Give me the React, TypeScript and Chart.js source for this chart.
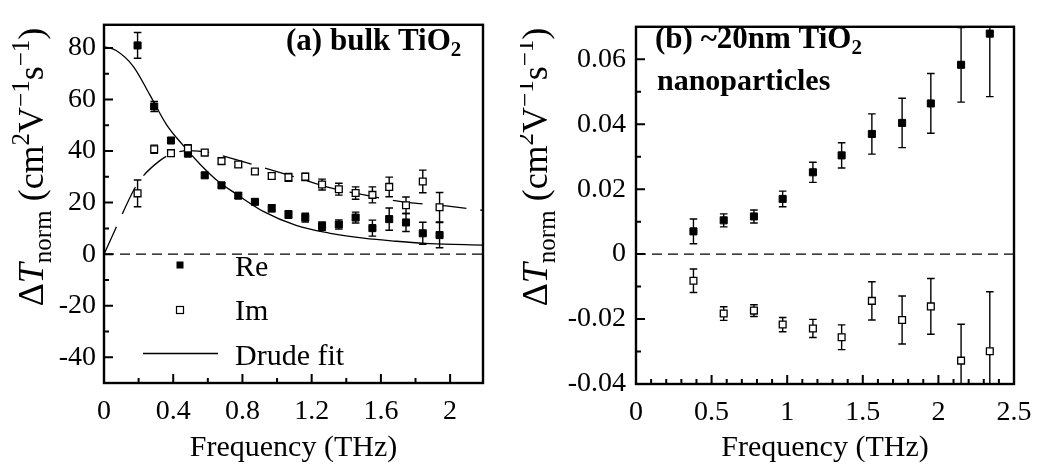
import { useEffect, useRef } from "react";
import { Chart, registerables } from "chart.js";

Chart.register(...registerables);

const SERIF = '"Liberation Serif", "Times New Roman", serif';

// ---------- (a) bulk TiO2 ----------
const bulkFreq = [0.194, 0.29, 0.387, 0.485, 0.582, 0.679, 0.776, 0.872, 0.969, 1.066, 1.163, 1.26, 1.357, 1.454, 1.551, 1.648, 1.745, 1.842, 1.939];
const bulkRe = [81.0, 57.3, 44.1, 39.0, 30.6, 26.7, 22.7, 20.3, 17.8, 15.4, 14.2, 10.9, 11.5, 14.2, 10.1, 13.6, 12.3, 8.1, 7.4];
const bulkReErr = [5.0, 2.0, 1.0, 1.0, 1.0, 1.0, 1.0, 1.0, 1.4, 1.5, 1.7, 1.6, 1.8, 2.1, 3.1, 4.3, 3.5, 4.3, 4.9];
const bulkIm = [23.6, 40.7, 39.2, 41.0, 39.4, 36.1, 34.8, 32.1, 30.3, 29.8, 30.0, 27.0, 25.2, 23.7, 23.0, 26.1, 19.0, 28.2, 18.2];
const bulkImErr = [5.2, 1.6, 1.0, 1.5, 1.0, 1.0, 1.0, 1.0, 1.2, 1.5, 1.4, 2.1, 2.3, 2.4, 3.1, 3.8, 3.2, 4.4, 5.7];

// Drude fit curves (sampled)
const fitReFreq = [0, 0.07, 0.17, 0.265, 0.36, 0.46, 0.555, 0.65, 0.765, 0.92, 1.11, 1.3, 1.5, 1.69, 1.88, 2.19];
const fitRe = [80.5, 79.0, 72.8, 61.8, 50.4, 42.0, 34.9, 28.8, 23.3, 16.6, 11.2, 8.2, 6.2, 5.0, 4.1, 3.5];
const fitImFreq = [0, 0.063, 0.096, 0.169, 0.208, 0.319, 0.39, 0.487, 0.612, 0.727, 0.871, 1.112, 1.304, 1.496, 1.727, 1.977, 2.19];
const fitIm = [0, 9.3, 14.2, 24.5, 28.8, 36.1, 38.9, 40.2, 39.4, 37.4, 34.6, 29.8, 25.8, 23.1, 20.3, 18.7, 17.0];

const bulkXTicks = [0, 0.4, 0.8, 1.2, 1.6, 2];
const bulkXLabels = ["0", "0.4", "0.8", "1.2", "1.6", "2"];
const bulkXMinor = [0.2, 0.6, 1.0, 1.4, 1.8];
const bulkYTicks = [-40, -20, 0, 20, 40, 60, 80];
const bulkYLabels = ["-40", "-20", "0", "20", "40", "60", "80"];
const bulkYMinor = [-30, -10, 10, 30, 50, 70];

// ---------- (b) ~20nm TiO2 nanoparticles ----------
const nanoFreq = [0.38, 0.58, 0.78, 0.97, 1.17, 1.36, 1.56, 1.76, 1.95, 2.15, 2.34];
const nanoRe = [0.007, 0.0104, 0.0116, 0.017, 0.0252, 0.0304, 0.037, 0.0404, 0.0464, 0.0583, 0.0679];
const nanoReErr = [0.0038, 0.002, 0.002, 0.0024, 0.0031, 0.0039, 0.0062, 0.0076, 0.0092, 0.0115, 0.0194];
const nanoIm = [-0.0082, -0.0183, -0.0174, -0.0217, -0.0229, -0.0256, -0.0144, -0.0203, -0.0161, -0.0328, -0.0299];
const nanoImErr = [0.0036, 0.0021, 0.0018, 0.0022, 0.0028, 0.0038, 0.0059, 0.0074, 0.0086, 0.0112, 0.0183];

const nanoXTicks = [0, 0.5, 1, 1.5, 2, 2.5];
const nanoXLabels = ["0", "0.5", "1", "1.5", "2", "2.5"];
const nanoXMinor = [0.1, 0.2, 0.3, 0.4, 0.6, 0.7, 0.8, 0.9, 1.1, 1.2, 1.3, 1.4, 1.6, 1.7, 1.8, 1.9, 2.1, 2.2, 2.3, 2.4];
const nanoYTicks = [-0.04, -0.02, 0, 0.02, 0.04, 0.06];
const nanoYLabels = ["-0.04", "-0.02", "0", "0.02", "0.04", "0.06"];
const nanoYMinor = [-0.03, -0.01, 0.01, 0.03, 0.05];

type Seg = { t: string; font: string; dy?: number };

const reg = (s: number) => `${s}px ${SERIF}`;
const ital = (s: number) => `italic ${s}px ${SERIF}`;
const bold = (s: number) => `bold ${s}px ${SERIF}`;

const yTitleSegs: Seg[] = [
  { t: "\u0394", font: reg(36) },
  { t: "T", font: ital(36) },
  { t: "norm", font: reg(25), dy: 8 },
  { t: " (cm", font: reg(36) },
  { t: "2", font: reg(25), dy: -14 },
  { t: "V", font: reg(36) },
  { t: "\u22121", font: reg(25), dy: -14 },
  { t: "s", font: reg(36) },
  { t: "\u22121", font: reg(25), dy: -14 },
  { t: ")", font: reg(36) },
];

function richWidth(ctx: CanvasRenderingContext2D, segs: Seg[]) {
  let w = 0;
  for (const s of segs) {
    ctx.font = s.font;
    w += ctx.measureText(s.t).width;
  }
  return w;
}

function drawRich(ctx: CanvasRenderingContext2D, segs: Seg[], x: number, y: number) {
  let cx = x;
  for (const s of segs) {
    ctx.font = s.font;
    ctx.fillText(s.t, cx, y + (s.dy || 0));
    cx += ctx.measureText(s.t).width;
  }
}

interface Series {
  freq: number[];
  val: number[];
  err: number[];
}

interface PanelSpec {
  width: number;
  xMin: number;
  xMax: number;
  yMin: number;
  yMax: number;
  xTicks: number[];
  xLabels: string[];
  xMinor: number[];
  yTicks: number[];
  yLabels: string[];
  yMinor: number[];
  yAxisWidth: number;
  xAxisHeight: number;
  padRight: number;
  yLabelPad: number;
  re: Series;
  im: Series;
  withFit: boolean;
  titles: { segs: Seg[]; x: number; y: number }[];
  yTitleX: number;
  yTitleY: number;
  legend: boolean;
}

const zip = (xs: number[], ys: number[]) => xs.map((x, i) => ({ x, y: ys[i] }));

function panelPlugin(spec: PanelSpec) {
  return {
    id: "panelDecor",
    beforeDatasetsDraw(chart: any) {
      const { ctx, chartArea: a, scales } = chart;
      const xs = scales.x;
      const ys = scales.y;
      ctx.save();
      ctx.beginPath();
      ctx.rect(a.left, a.top, a.right - a.left, a.bottom - a.top);
      ctx.clip();
      // zero reference line
      const y0 = ys.getPixelForValue(0);
      ctx.strokeStyle = "#000";
      ctx.lineWidth = 1.4;
      ctx.setLineDash([10, 6]);
      ctx.beginPath();
      ctx.moveTo(a.left, y0);
      ctx.lineTo(a.right, y0);
      ctx.stroke();
      ctx.setLineDash([]);
      // error bars
      ctx.lineWidth = 1.4;
      for (const s of [spec.re, spec.im]) {
        s.freq.forEach((f, i) => {
          const px = xs.getPixelForValue(f);
          const hi = ys.getPixelForValue(s.val[i] + s.err[i]);
          const lo = ys.getPixelForValue(s.val[i] - s.err[i]);
          ctx.beginPath();
          ctx.moveTo(px, hi);
          ctx.lineTo(px, lo);
          ctx.moveTo(px - 3.8, hi);
          ctx.lineTo(px + 3.8, hi);
          ctx.moveTo(px - 3.8, lo);
          ctx.lineTo(px + 3.8, lo);
          ctx.stroke();
        });
      }
      ctx.restore();
    },
    afterDraw(chart: any) {
      const { ctx, chartArea: a, scales } = chart;
      const xs = scales.x;
      const ys = scales.y;
      ctx.save();
      ctx.strokeStyle = "#000";
      ctx.fillStyle = "#000";
      // frame
      ctx.lineWidth = 2.4;
      ctx.strokeRect(a.left, a.top, a.right - a.left, a.bottom - a.top);
      // inward ticks
      ctx.lineWidth = 2;
      ctx.beginPath();
      for (const v of spec.xTicks) {
        const px = xs.getPixelForValue(v);
        ctx.moveTo(px, a.bottom);
        ctx.lineTo(px, a.bottom - 9);
      }
      for (const v of spec.xMinor) {
        const px = xs.getPixelForValue(v);
        ctx.moveTo(px, a.bottom);
        ctx.lineTo(px, a.bottom - 5);
      }
      for (const v of spec.yTicks) {
        const py = ys.getPixelForValue(v);
        ctx.moveTo(a.left, py);
        ctx.lineTo(a.left + 9, py);
      }
      for (const v of spec.yMinor) {
        const py = ys.getPixelForValue(v);
        ctx.moveTo(a.left, py);
        ctx.lineTo(a.left + 5, py);
      }
      ctx.stroke();

      // panel titles
      ctx.textBaseline = "alphabetic";
      ctx.textAlign = "left";
      for (const line of spec.titles) drawRich(ctx, line.segs, line.x, line.y);

      // y axis title (rotated)
      ctx.save();
      ctx.translate(spec.yTitleX, spec.yTitleY);
      ctx.rotate(-Math.PI / 2);
      const w = richWidth(ctx, yTitleSegs);
      drawRich(ctx, yTitleSegs, -w / 2, 0);
      ctx.restore();

      // legend
      if (spec.legend) {
        ctx.fillRect(176.5, 261.5, 7, 7);
        ctx.fillStyle = "#fff";
        ctx.fillRect(176.5, 306.5, 7, 7);
        ctx.fillStyle = "#000";
        ctx.lineWidth = 1.2;
        ctx.strokeRect(176.5, 306.5, 7, 7);
        ctx.lineWidth = 1.3;
        ctx.beginPath();
        ctx.moveTo(143, 353.5);
        ctx.lineTo(218, 353.5);
        ctx.stroke();
        ctx.font = reg(30);
        ctx.fillText("Re", 235, 276);
        ctx.fillText("Im", 235, 320);
        ctx.fillText("Drude fit", 235, 365);
      }
      ctx.restore();
    },
  };
}

function buildChart(canvas: HTMLCanvasElement, spec: PanelSpec) {
  const datasets: any[] = [];
  if (spec.withFit) {
    datasets.push({
      data: zip(fitReFreq, fitRe),
      showLine: true,
      borderColor: "#000",
      borderWidth: 1.3,
      pointRadius: 0,
      cubicInterpolationMode: "monotone",
      order: 3,
    });
    datasets.push({
      data: zip(fitImFreq, fitIm),
      showLine: true,
      borderColor: "#000",
      borderWidth: 1.3,
      borderDash: [30, 14],
      pointRadius: 0,
      cubicInterpolationMode: "monotone",
      order: 2,
    });
  }
  datasets.push({
    data: zip(spec.re.freq, spec.re.val),
    showLine: false,
    pointStyle: "rect",
    pointRadius: 5,
    pointBackgroundColor: "#000",
    pointBorderColor: "#000",
    pointBorderWidth: 1,
    order: 1,
  });
  datasets.push({
    data: zip(spec.im.freq, spec.im.val),
    showLine: false,
    pointStyle: "rect",
    pointRadius: 4.8,
    pointBackgroundColor: "#fff",
    pointBorderColor: "#000",
    pointBorderWidth: 1.3,
    order: 0,
  });

  return new Chart(canvas, {
    type: "scatter",
    data: { datasets },
    plugins: [panelPlugin(spec)],
    options: {
      animation: false,
      responsive: false,
      devicePixelRatio: 1,
      events: [],
      layout: { padding: { top: 4, right: spec.padRight, left: 0, bottom: 0 } },
      plugins: { legend: { display: false }, tooltip: { enabled: false } },
      scales: {
        x: {
          type: "linear",
          min: spec.xMin,
          max: spec.xMax,
          afterBuildTicks: (s: any) => {
            s.ticks = spec.xTicks.map((v) => ({ value: v }));
          },
          afterFit: (s: any) => {
            s.height = spec.xAxisHeight;
          },
          grid: { display: false, drawTicks: false },
          border: { display: false },
          ticks: {
            autoSkip: false,
            maxRotation: 0,
            padding: 12,
            color: "#000",
            font: { family: SERIF, size: 28 },
            callback: (_v: any, i: number) => spec.xLabels[i],
          },
          title: {
            display: true,
            text: "Frequency (THz)",
            color: "#000",
            font: { family: SERIF, size: 30 },
            padding: { top: 0, bottom: 6 },
          },
        },
        y: {
          type: "linear",
          min: spec.yMin,
          max: spec.yMax,
          afterBuildTicks: (s: any) => {
            s.ticks = spec.yTicks.map((v) => ({ value: v }));
          },
          afterFit: (s: any) => {
            s.width = spec.yAxisWidth;
          },
          grid: { display: false, drawTicks: false },
          border: { display: false },
          ticks: {
            autoSkip: false,
            padding: spec.yLabelPad,
            color: "#000",
            font: { family: SERIF, size: 28 },
            callback: (_v: any, i: number) => spec.yLabels[i],
          },
        },
      },
    } as any,
  });
}

const bulkSpec: PanelSpec = {
  width: 520,
  xMin: 0,
  xMax: 2.19,
  yMin: -50,
  yMax: 89,
  xTicks: bulkXTicks,
  xLabels: bulkXLabels,
  xMinor: bulkXMinor,
  yTicks: bulkYTicks,
  yLabels: bulkYLabels,
  yMinor: bulkYMinor,
  yAxisWidth: 104,
  xAxisHeight: 89,
  padRight: 37,
  yLabelPad: 8,
  re: { freq: bulkFreq, val: bulkRe, err: bulkReErr },
  im: { freq: bulkFreq, val: bulkIm, err: bulkImErr },
  withFit: true,
  titles: [
    {
      segs: [
        { t: "(a) bulk TiO", font: bold(31) },
        { t: "2", font: bold(21), dy: 6 },
      ],
      x: 286,
      y: 50,
    },
  ],
  yTitleX: 43,
  yTitleY: 167,
  legend: true,
};

const nanoSpec: PanelSpec = {
  width: 525,
  xMin: 0,
  xMax: 2.5,
  yMin: -0.04,
  yMax: 0.07,
  xTicks: nanoXTicks,
  xLabels: nanoXLabels,
  xMinor: nanoXMinor,
  yTicks: nanoYTicks,
  yLabels: nanoYLabels,
  yMinor: nanoYMinor,
  yAxisWidth: 116,
  xAxisHeight: 88,
  padRight: 31,
  yLabelPad: 10,
  re: { freq: nanoFreq, val: nanoRe, err: nanoReErr },
  im: { freq: nanoFreq, val: nanoIm, err: nanoImErr },
  withFit: false,
  titles: [
    {
      segs: [
        { t: "(b) ~20nm TiO", font: bold(31) },
        { t: "2", font: bold(21), dy: 6 },
      ],
      x: 135,
      y: 48,
    },
    { segs: [{ t: "nanoparticles", font: bold(30) }], x: 137, y: 90 },
  ],
  yTitleX: 27,
  yTitleY: 167,
  legend: false,
};

function Panel({ spec, left }: { spec: PanelSpec; left: number }) {
  const ref = useRef<HTMLCanvasElement | null>(null);
  useEffect(() => {
    if (!ref.current) return;
    const chart = buildChart(ref.current, spec);
    return () => chart.destroy();
  }, [spec]);
  return (
    <canvas
      ref={ref}
      width={spec.width}
      height={472}
      style={{ position: "absolute", left, top: 0, width: spec.width, height: 472, display: "block" }}
    />
  );
}

export default function App() {
  return (
    <div style={{ position: "fixed", left: 0, top: 0, width: 1045, height: 472, background: "#fff" }}>
      <Panel spec={bulkSpec} left={0} />
      <Panel spec={nanoSpec} left={520} />
    </div>
  );
}
